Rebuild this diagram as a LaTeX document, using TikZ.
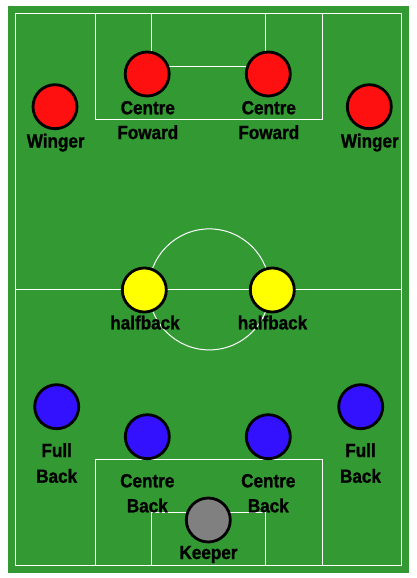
\documentclass[tikz,border=0pt]{standalone}
\usepackage{fontspec}
\setmainfont{Liberation Sans}
\newfontfamily\lblfont[FakeBold=1.2]{Liberation Sans Bold}
\usepackage{graphicx}
\definecolor{pitch}{RGB}{51,153,51}
\definecolor{pred}{RGB}{255,16,16}
\definecolor{pblue}{RGB}{51,17,255}
\definecolor{pyellow}{RGB}{255,255,0}
\definecolor{pgrey}{RGB}{128,128,128}
\newcommand{\sx}[1]{\scalebox{0.9}[1]{#1}}
\begin{document}
\begin{tikzpicture}[x=1pt,y=-1pt,
  fieldline/.style={draw=white,line width=1pt},
  player/.style={circle,draw=black,line width=2.8pt,minimum size=44pt,inner sep=0pt},
  lbl/.style={anchor=base,inner sep=0pt,font=\fontsize{19}{22}\selectfont\lblfont,text=black}]
\useasboundingbox (0,0) rectangle (416,578);
\fill[pitch] (8,6) rectangle (409,572.5);
% field lines
\draw[fieldline] (15.3,13.7) rectangle (401.7,565);
\draw[fieldline] (15.3,289.4) -- (401.7,289.4);
\draw[fieldline] (209.3,289.4) circle[radius=60.5];
\draw[fieldline] (95.7,13.7) rectangle (322.3,119);
\draw[fieldline] (151.7,13.7) rectangle (265.3,66.3);
\draw[fieldline] (95.7,459.3) rectangle (322.3,565);
\draw[fieldline] (151.7,512.3) rectangle (265.3,565);
% players
\node[player,fill=pred] (cfl) at (147.2,74) {};
\node[player,fill=pred] (cfr) at (268.3,74) {};
\node[player,fill=pred] (wl) at (55,106.7) {};
\node[player,fill=pred] (wr) at (369.3,106.7) {};
\node[player,fill=pyellow] (hl) at (144.3,290) {};
\node[player,fill=pyellow] (hr) at (272.3,290) {};
\node[player,fill=pblue] (fbl) at (56.7,406.7) {};
\node[player,fill=pblue] (fbr) at (360.7,406.7) {};
\node[player,fill=pblue] (cbl) at (147.3,436.7) {};
\node[player,fill=pblue] (cbr) at (268.3,436.7) {};
\node[player,fill=pgrey] (gk) at (208.3,520) {};
% labels
\node[lbl] (lwl) at (55.7,147.5) {\sx{Winger}};
\node[lbl] (lwr) at (369.8,147.5) {\sx{Winger}};
\node[lbl] (lcfla) at (147.8,114.3) {\sx{Centre}};
\node[lbl] (lcflb) at (147.8,139) {\sx{Foward}};
\node[lbl] (lcfra) at (268.8,114.3) {\sx{Centre}};
\node[lbl] (lcfrb) at (268.8,139) {\sx{Foward}};
\node[lbl] (lhl) at (145,329.3) {\sx{halfback}};
\node[lbl] (lhr) at (272.5,329.3) {\sx{halfback}};
\node[lbl] (lfbla) at (56.7,457) {\sx{Full}};
\node[lbl] (lfblb) at (56.7,482.7) {\sx{Back}};
\node[lbl] (lfbra) at (360.5,457) {\sx{Full}};
\node[lbl] (lfbrb) at (360.5,482.7) {\sx{Back}};
\node[lbl] (lcbla) at (147.3,487.3) {\sx{Centre}};
\node[lbl] (lcblb) at (147.3,512.3) {\sx{Back}};
\node[lbl] (lcbra) at (268.3,487.3) {\sx{Centre}};
\node[lbl] (lcbrb) at (268.3,512.3) {\sx{Back}};
\node[lbl] (lgk) at (208.5,559) {\sx{Keeper}};
\end{tikzpicture}
\end{document}
